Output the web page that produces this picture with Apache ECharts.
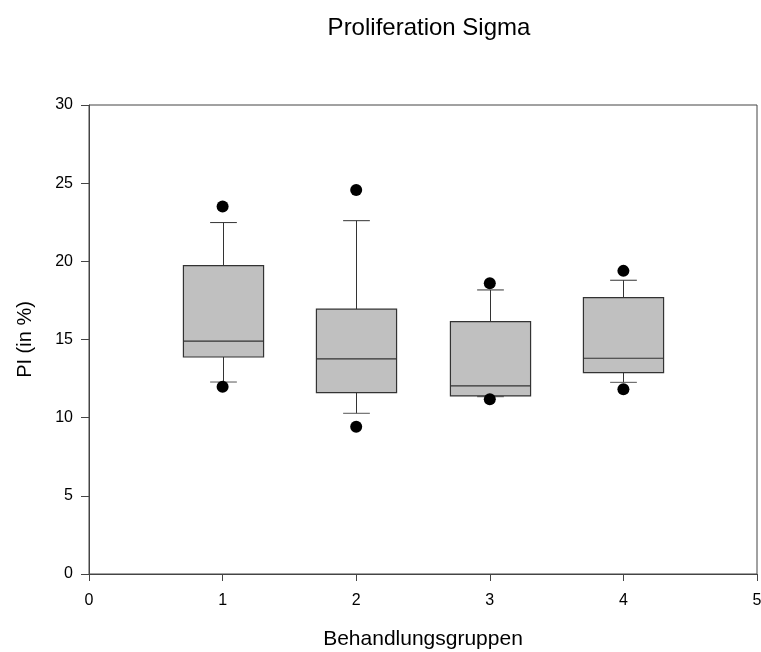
<!DOCTYPE html>
<html>
<head>
<meta charset="utf-8">
<script src="https://cdn.jsdelivr.net/npm/echarts@6/dist/echarts.min.js"></script>
<style>
  html, body { margin: 0; padding: 0; background: #fff; }
  #chart { width: 761px; height: 652px; }
</style>
</head>
<body>
<div id="chart"></div>
<script>
// group positions on the x axis
const groups = [1, 2, 3, 4]
// box plot statistics
const whiskerLow = [12.28, 10.28, 11.34, 12.26]
const q1 = [13.88, 11.6, 11.39, 12.88]
const median = [14.89, 13.76, 12.03, 13.8]
const q3 = [19.72, 16.94, 16.14, 17.68]
const whiskerHigh = [22.48, 22.6, 18.17, 18.79]
// outlying points (5th / 95th percentile dots)
const outlierX = [1, 1, 2, 2, 3, 3, 4, 4]
const outlierY = [23.5, 11.98, 24.57, 9.42, 18.6, 11.18, 19.39, 11.82]
const xTicks = [0, 1, 2, 3, 4, 5]
const yTicks = [0, 5, 10, 15, 20, 25, 30]

const boxData = groups.map((g, i) => [g, whiskerLow[i], q1[i], median[i], q3[i], whiskerHigh[i]])
const outlierData = outlierX.map((x, i) => [x, outlierY[i]])

const font = 'Liberation Sans, Arial, sans-serif'
const boxWidth = 0.6
const capWidth = 0.2

function renderBox(params, api) {
  const x = api.value(0)
  const pLow = api.coord([x, api.value(1)])
  const pQ1 = api.coord([x, api.value(2)])
  const pMed = api.coord([x, api.value(3)])
  const pQ3 = api.coord([x, api.value(4)])
  const pHigh = api.coord([x, api.value(5)])
  const halfBox = api.size([boxWidth, 0])[0] / 2
  const halfCap = api.size([capWidth, 0])[0] / 2
  const cx = Math.round(pMed[0]) + 0.5
  const whiskerStyle = { stroke: '#333', lineWidth: 1 }
  return {
    type: 'group',
    children: [
      // whiskers
      { type: 'line', shape: { x1: cx, y1: pHigh[1], x2: cx, y2: pQ3[1] }, style: whiskerStyle },
      { type: 'line', shape: { x1: cx - halfCap, y1: pHigh[1], x2: cx + halfCap, y2: pHigh[1] }, style: whiskerStyle },
      { type: 'line', shape: { x1: cx, y1: pLow[1], x2: cx, y2: pQ1[1] }, style: whiskerStyle },
      { type: 'line', shape: { x1: cx - halfCap, y1: pLow[1], x2: cx + halfCap, y2: pLow[1] }, style: { stroke: '#555', lineWidth: 1 } },
      // box
      {
        type: 'rect',
        shape: { x: cx - halfBox, y: pQ3[1], width: halfBox * 2, height: pQ1[1] - pQ3[1] },
        style: { fill: '#c0c0c0', stroke: '#333', lineWidth: 1.2 },
      },
      // median
      { type: 'line', shape: { x1: cx - halfBox, y1: pMed[1], x2: cx + halfBox, y2: pMed[1] }, style: { stroke: '#333', lineWidth: 1.2 } },
    ],
  }
}

const chart = echarts.init(document.getElementById('chart'))
chart.setOption({
  animation: false,
  backgroundColor: '#fff',
  title: {
    text: 'Proliferation Sigma',
    left: 424,
    textAlign: 'center',
    top: 11,
    textStyle: { fontFamily: font, fontSize: 24, fontWeight: 'normal', color: '#000' },
  },
  grid: {
    left: 89,
    right: 4,
    top: 105,
    bottom: 78,
    outerBoundsMode: 'none',
    show: true,
    borderColor: '#444',
    borderWidth: 1,
  },
  xAxis: {
    type: 'value',
    min: 0,
    max: 5,
    interval: 1,
    name: 'Behandlungsgruppen',
    nameLocation: 'middle',
    nameGap: 55,
    nameTextStyle: { fontFamily: font, fontSize: 21, color: '#000' },
    axisLine: { show: true, lineStyle: { color: '#444', width: 1 } },
    axisTick: { show: true, inside: false, length: 7, lineStyle: { color: '#444' } },
    axisLabel: {
      fontFamily: font,
      fontSize: 16,
      color: '#000',
      margin: 19,
      formatter: (v) => (xTicks.includes(v) ? String(v) : ''),
    },
    splitLine: { show: false },
  },
  yAxis: {
    type: 'value',
    min: 0,
    max: 30,
    interval: 5,
    name: 'PI (in %)',
    nameLocation: 'middle',
    nameGap: 54,
    nameRotate: 90,
    nameTextStyle: { fontFamily: font, fontSize: 20, color: '#000' },
    axisLine: { show: true, lineStyle: { color: '#444', width: 1 } },
    axisTick: { show: true, inside: false, length: 8, lineStyle: { color: '#444' } },
    axisLabel: {
      fontFamily: font,
      fontSize: 16,
      color: '#000',
      margin: 16,
      formatter: (v) => (yTicks.includes(v) ? String(v) : ''),
    },
    splitLine: { show: false },
  },
  series: [
    {
      name: 'box',
      type: 'custom',
      renderItem: renderBox,
      encode: { x: 0, y: [1, 2, 3, 4, 5] },
      data: boxData,
      z: 2,
    },
    {
      name: 'outliers',
      type: 'scatter',
      data: outlierData,
      symbol: 'circle',
      symbolSize: 12,
      itemStyle: { color: '#000', opacity: 1 },
      z: 3,
    },
  ],
})
</script>
</body>
</html>
